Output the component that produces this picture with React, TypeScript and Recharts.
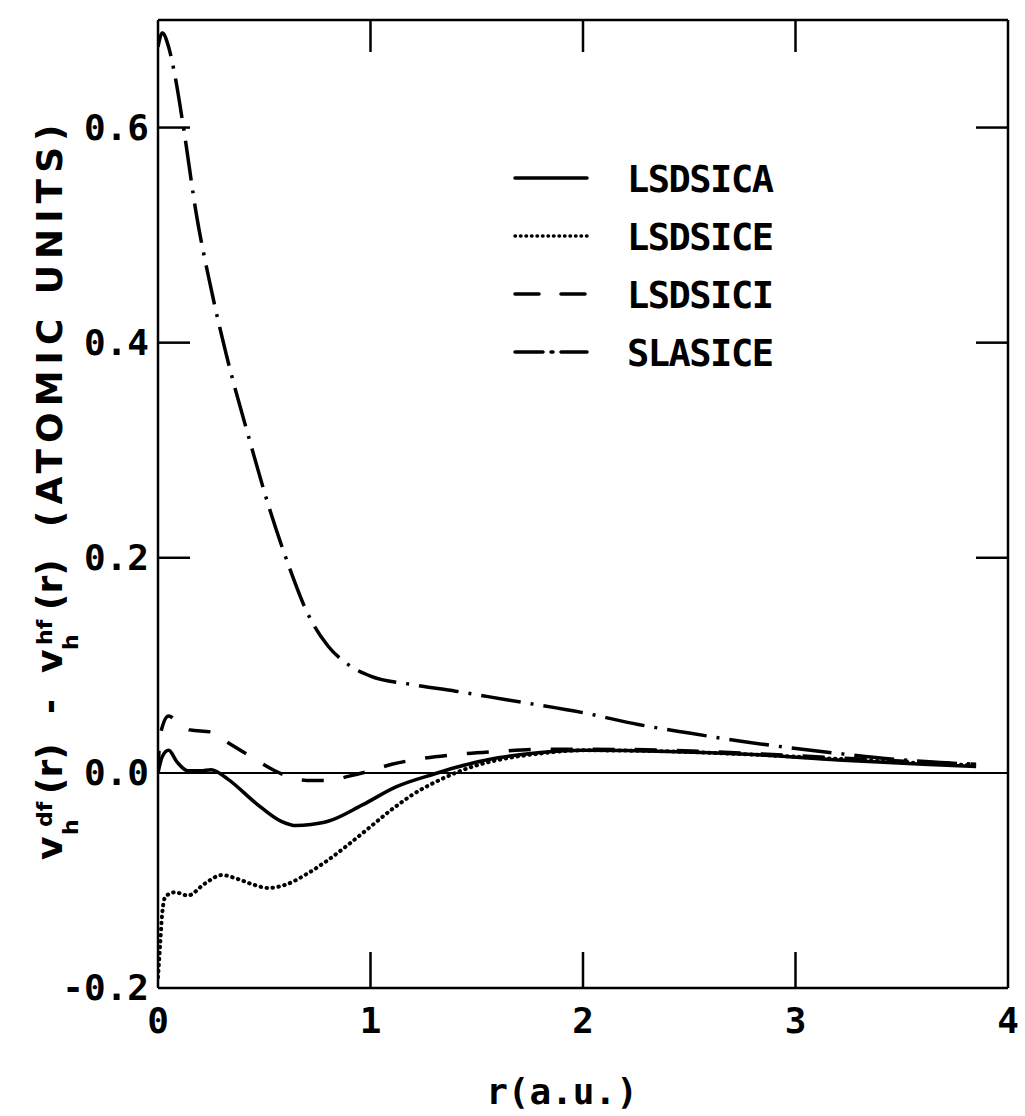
import React from "react";
import { Legend, Line, LineChart, ReferenceLine, XAxis, YAxis } from "recharts";

// r in atomic units, values in atomic units
const lsdsicaR = [0, 0.02, 0.05, 0.09, 0.14, 0.2, 0.25, 0.33, 0.46, 0.58, 0.65, 0.72, 0.8, 0.96, 1.12, 1.3, 1.4, 1.6, 1.8, 2.0, 2.4, 2.8, 3.2, 3.6, 3.85];
const lsdsicaV = [0, 0.015, 0.021, 0.01, 0.002, 0.002, 0.003, -0.006, -0.028, -0.045, -0.049, -0.048, -0.045, -0.03, -0.013, -0.001, 0.005, 0.014, 0.019, 0.021, 0.02, 0.017, 0.012, 0.008, 0.006];

const lsdsiceR = [0, 0.01, 0.02, 0.035, 0.08, 0.14, 0.22, 0.3, 0.38, 0.45, 0.52, 0.6, 0.7, 0.8, 0.9, 1.0, 1.1, 1.2, 1.3, 1.4, 1.5, 1.6, 1.8, 2.0, 2.4, 2.8, 3.2, 3.6, 3.85];
const lsdsiceV = [-0.19, -0.16, -0.13, -0.115, -0.111, -0.114, -0.103, -0.095, -0.099, -0.104, -0.107, -0.104, -0.094, -0.081, -0.066, -0.05, -0.034, -0.02, -0.009, 0.0, 0.007, 0.012, 0.018, 0.021, 0.02, 0.017, 0.013, 0.009, 0.007];

const lsdsiciR = [0, 0.01, 0.05, 0.1, 0.15, 0.25, 0.33, 0.43, 0.55, 0.62, 0.7, 0.8, 0.9, 1.0, 1.1, 1.2, 1.4, 1.6, 1.8, 2.0, 2.4, 2.8, 3.2, 3.6, 3.85];
const lsdsiciV = [0.0, 0.035, 0.053, 0.045, 0.04, 0.038, 0.028, 0.016, 0.002, -0.004, -0.007, -0.007, -0.003, 0.002, 0.008, 0.012, 0.017, 0.02, 0.022, 0.022, 0.021, 0.018, 0.014, 0.01, 0.008];

const slasiceR = [0, 0.02, 0.05, 0.08, 0.12, 0.18, 0.25, 0.32, 0.43, 0.51, 0.62, 0.7, 0.8, 0.9, 1.0, 1.2, 1.4, 1.64, 2.0, 2.26, 2.5, 2.76, 3.16, 3.57, 3.85];
const slasiceV = [0.675, 0.688, 0.675, 0.648, 0.6, 0.52, 0.45, 0.39, 0.31, 0.255, 0.19, 0.15, 0.118, 0.1, 0.09, 0.082, 0.076, 0.068, 0.056, 0.045, 0.037, 0.029, 0.019, 0.011, 0.008];

const xTicks = [0, 1, 2, 3, 4];
const yTicks = [-0.2, 0, 0.2, 0.4, 0.6];

const toPoints = (rs: number[], vs: number[]) => rs.map((r, i) => ({ r, v: vs[i] }));

const MONO = "'DejaVu Sans Mono', monospace";
const tickFont = { fontFamily: MONO, fontWeight: "bold" as const, fontSize: 36, fill: "#000" };
const frame = { stroke: "#000", strokeWidth: 2.5 };

// legend sample dashes (legend lines are short so patterns differ a bit)
const legendDash: Record<string, string | undefined> = {
  LSDSICA: undefined,
  LSDSICE: "0.5 5",
  LSDSICI: "24 22",
  SLASICE: "28 8 2 8",
};

const BottomTick = ({ x, y, payload }: any) => (
  <g>
    {payload.value > 0 && payload.value < 4 && <line x1={x} y1={y} x2={x} y2={y - 36} {...frame} />}
    <text x={x} y={y + 45} textAnchor="middle" {...tickFont}>{payload.value}</text>
  </g>
);

const LeftTick = ({ x, y, payload }: any) => (
  <g>
    {payload.value > 0 && <line x1={x} y1={y} x2={x + 32} y2={y} {...frame} />}
    <text x={x - 9} y={y + 12} textAnchor="end" {...tickFont}>{payload.value.toFixed(1)}</text>
  </g>
);

const TopTick = ({ x, y, payload }: any) =>
  payload.value > 0 && payload.value < 4 ? <line x1={x} y1={y} x2={x} y2={y + 32} {...frame} /> : <g />;

const RightTick = ({ x, y, payload }: any) =>
  payload.value > 0 ? <line x1={x} y1={y} x2={x - 32} y2={y} {...frame} /> : <g />;

const YTitle = ({ viewBox }: any) => {
  const main = { fontSize: 36 };
  const small = { fontSize: 22 };
  return (
    <g transform={`translate(${viewBox.x + 34},${viewBox.y + 840}) rotate(-90)`}>
      <text fontFamily="'DejaVu Sans', sans-serif" fontWeight="bold" fill="#000">
        <tspan x={0} y={0} {...main}>v</tspan>
        <tspan x={25} y={16} {...small}>h</tspan>
        <tspan x={33} y={-10} {...small}>df</tspan>
        <tspan x={66} y={0} {...main}>(r)</tspan>
        <tspan x={146} y={0} {...main}>-</tspan>
        <tspan x={187} y={0} {...main}>v</tspan>
        <tspan x={210} y={16} {...small}>h</tspan>
        <tspan x={215} y={-10} {...small}>hf</tspan>
        <tspan x={250} y={0} {...main}>(r)</tspan>
        <tspan x={333} y={0} {...main} letterSpacing={6}>(ATOMIC UNITS)</tspan>
      </text>
    </g>
  );
};

const XTitle = ({ viewBox }: any) => (
  <text x={viewBox.x + 404} y={viewBox.y + 116} textAnchor="middle" {...tickFont}>r(a.u.)</text>
);

const renderLegend = ({ payload }: any) => (
  <svg width={300} height={240}>
    {(payload || []).map((entry: any, i: number) => {
      const cy = 28 + i * 58;
      return (
        <g key={entry.value}>
          <line x1={10} y1={cy} x2={82} y2={cy} stroke="#000" strokeWidth={3.5} strokeLinecap="round" strokeDasharray={legendDash[entry.value]} />
          <text x={122} y={cy + 14} fontFamily={MONO} fontWeight="bold" fontSize={37} letterSpacing={-1.5} fill="#000">{entry.value}</text>
        </g>
      );
    })}
  </svg>
);

export default function App() {
  return (
    <div style={{ position: "absolute", left: 0, top: 0, width: 1025, height: 1116, background: "#fff" }}>
      <LineChart width={1025} height={1116} margin={{ top: 18, right: 15, bottom: 18, left: 28 }}>
        <XAxis type="number" dataKey="r" domain={[0, 4]} ticks={xTicks} interval={0} allowDataOverflow
          height={110} tickSize={0} tickMargin={0} tickLine={false} axisLine={frame} tick={BottomTick} label={XTitle} />
        <XAxis xAxisId="top" orientation="top" type="number" dataKey="r" domain={[0, 4]} ticks={xTicks} interval={0}
          allowDataOverflow height={2} tickSize={0} tickMargin={0} tickLine={false} axisLine={frame} tick={TopTick} />
        <YAxis type="number" domain={[-0.2, 0.7]} ticks={yTicks} interval={0} allowDataOverflow width={130}
          tickSize={0} tickMargin={0} tickLine={false} axisLine={frame} tick={LeftTick} label={YTitle} />
        <YAxis yAxisId="right" orientation="right" type="number" domain={[-0.2, 0.7]} ticks={yTicks} interval={0}
          allowDataOverflow width={2} tickSize={0} tickMargin={0} tickLine={false} axisLine={frame} tick={RightTick} />
        <ReferenceLine y={0} stroke="#000" strokeWidth={2} />
        <Legend layout="vertical" align="center" verticalAlign="middle" content={renderLegend}
          wrapperStyle={{ position: "absolute", left: 505, top: 150, width: 300, height: 240 }} />
        <Line data={toPoints(lsdsicaR, lsdsicaV)} dataKey="v" name="LSDSICA" type="monotone" stroke="#000"
          strokeWidth={3.5} dot={false} isAnimationActive={false} />
        <Line data={toPoints(lsdsiceR, lsdsiceV)} dataKey="v" name="LSDSICE" type="monotone" stroke="#000"
          strokeWidth={4} strokeDasharray="0.5 5.5" strokeLinecap="round" dot={false} isAnimationActive={false} />
        <Line data={toPoints(lsdsiciR, lsdsiciV)} dataKey="v" name="LSDSICI" type="monotone" stroke="#000"
          strokeWidth={3.5} strokeDasharray="22 20" dot={false} isAnimationActive={false} />
        <Line data={toPoints(slasiceR, slasiceV)} dataKey="v" name="SLASICE" type="monotone" stroke="#000"
          strokeWidth={3.5} strokeDasharray="40 10 3 10" dot={false} isAnimationActive={false} />
      </LineChart>
    </div>
  );
}
